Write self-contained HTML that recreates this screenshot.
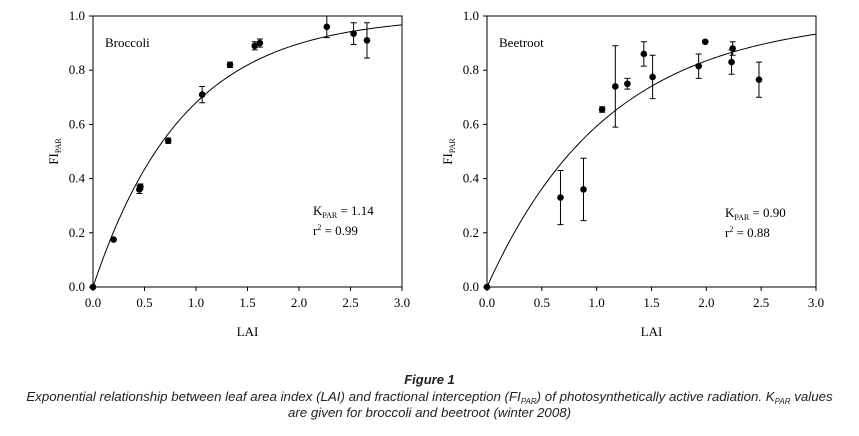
<!DOCTYPE html>
<html><head><meta charset="utf-8"><style>
body{margin:0;background:#fff;width:859px;height:436px;overflow:hidden}
svg{position:absolute;left:0;top:0}
.cap{position:absolute;left:0;width:859px;text-align:center;font-family:"Liberation Sans",sans-serif;font-style:italic;font-size:13.3px;color:#222}
sub{font-size:8px;line-height:0;vertical-align:-3px}
</style></head><body>
<svg id="chart" width="859" height="360"></svg>
<div class="cap" style="top:372px;font-weight:bold;font-size:13px">Figure 1</div>
<div class="cap" style="top:389px;line-height:16px">Exponential relationship between leaf area index (LAI) and fractional interception (FI<sub>PAR</sub>) of photosynthetically active radiation. K<sub>PAR</sub> values<br>are given for broccoli and beetroot (winter 2008)</div>
<script>
const xTicks=["0.0","0.5","1.0","1.5","2.0","2.5","3.0"];
const yTicks=["0.0","0.2","0.4","0.6","0.8","1.0"];
const brocX=[0,0.2,0.45,0.46,0.73,1.06,1.33,1.57,1.62,2.27,2.53,2.66];
const brocY=[0,0.175,0.36,0.37,0.54,0.71,0.82,0.89,0.90,0.96,0.935,0.91];
const brocErr=[0,0.005,0.015,0.01,0.01,0.03,0.01,0.015,0.015,0.04,0.04,0.065];
const brocK=1.14;
const beetX=[0,0.67,0.88,1.05,1.17,1.28,1.43,1.51,1.93,1.99,2.23,2.24,2.48];
const beetY=[0,0.33,0.36,0.655,0.74,0.75,0.86,0.775,0.815,0.905,0.83,0.88,0.765];
const beetErr=[0,0.1,0.115,0.01,0.15,0.02,0.045,0.08,0.045,0.005,0.045,0.025,0.065];
const beetK=0.90;
const NS="http://www.w3.org/2000/svg";
const svg=document.getElementById('chart');
function mk(t,a,p){const e=document.createElementNS(NS,t);for(const k in a)e.setAttribute(k,a[k]);(p||svg).appendChild(e);return e;}
function panel(name,x0,x1,y0,y1,xs,ys,es,k,label,kTxt,rTxt,annX,annY){
  const g=mk('g',{});
  
  
  const X=v=>x0+(v/3)*(x1-x0), Y=v=>y1-v*(y1-y0);
  const f="font-family:'Liberation Serif',serif;font-size:13px;fill:#000";
  const fr=mk('rect',{x:x0,y:y0,width:x1-x0,height:y1-y0,fill:'none',stroke:'#000','stroke-width':1},g);
  
  
  xTicks.forEach(t=>{const v=parseFloat(t);mk('line',{x1:X(v),x2:X(v),y1:y1,y2:y1+4,stroke:'#000'},g);
    const tx=mk('text',{x:X(v),y:y1+20,'text-anchor':'middle',style:f},g);tx.textContent=t;
    
    });
  yTicks.forEach(t=>{const v=parseFloat(t);mk('line',{x1:x0-4,x2:x0,y1:Y(v),y2:Y(v),stroke:'#000'},g);
    const tx=mk('text',{x:x0-8,y:Y(v)+4,'text-anchor':'end',style:f},g);tx.textContent=t;
    
    });
  const xt=mk('text',{x:(x0+x1)/2,y:y1+49,'text-anchor':'middle',style:f},g);xt.textContent='LAI';
  
  
  const yt=mk('text',{transform:`translate(${x0-35},${(y0+y1)/2}) rotate(-90)`,'text-anchor':'middle',style:f},g);
  yt.innerHTML='FI<tspan font-size="8" dy="3">PAR</tspan>';
  
  
  let d='';for(let i=0;i<=120;i++){const v=3*i/120;d+=(i?'L':'M')+X(v).toFixed(2)+','+Y(1-Math.exp(-k*v)).toFixed(2);}
  const c=mk('path',{d:d,fill:'none',stroke:'#000','stroke-width':1},g);
  
  
  xs.forEach((xv,i)=>{
    if(es[i]>0.006){const e=mk('path',{d:`M${X(xv)},${Y(ys[i]-es[i])}V${Y(ys[i]+es[i])}M${X(xv)-3},${Y(ys[i]-es[i])}h6M${X(xv)-3},${Y(ys[i]+es[i])}h6`,stroke:'#000','stroke-width':1,fill:'none'},g);
      
      }
    const p=mk('circle',{cx:X(xv),cy:Y(ys[i]),r:3.3,fill:'#000'},g);
    
    });
  const lb=mk('text',{x:x0+12,y:y0+31,style:f},g);lb.textContent=label;
  
  
  const kt=mk('text',{x:annX,y:annY,style:f},g);kt.innerHTML='K<tspan font-size="8" dy="3">PAR</tspan><tspan dy="-3"> = '+kTxt+'</tspan>';
  
  
  const rt=mk('text',{x:annX,y:annY+20,style:f},g);rt.innerHTML='r<tspan font-size="8" dy="-5">2</tspan><tspan dy="5"> = '+rTxt+'</tspan>';
  
  
}
panel('broccoli',93,402,16,287,brocX,brocY,brocErr,brocK,'Broccoli','1.14','0.99',313,215);
panel('beetroot',487,816,16,287,beetX,beetY,beetErr,beetK,'Beetroot','0.90','0.88',725,217);
</script>
</body></html>
